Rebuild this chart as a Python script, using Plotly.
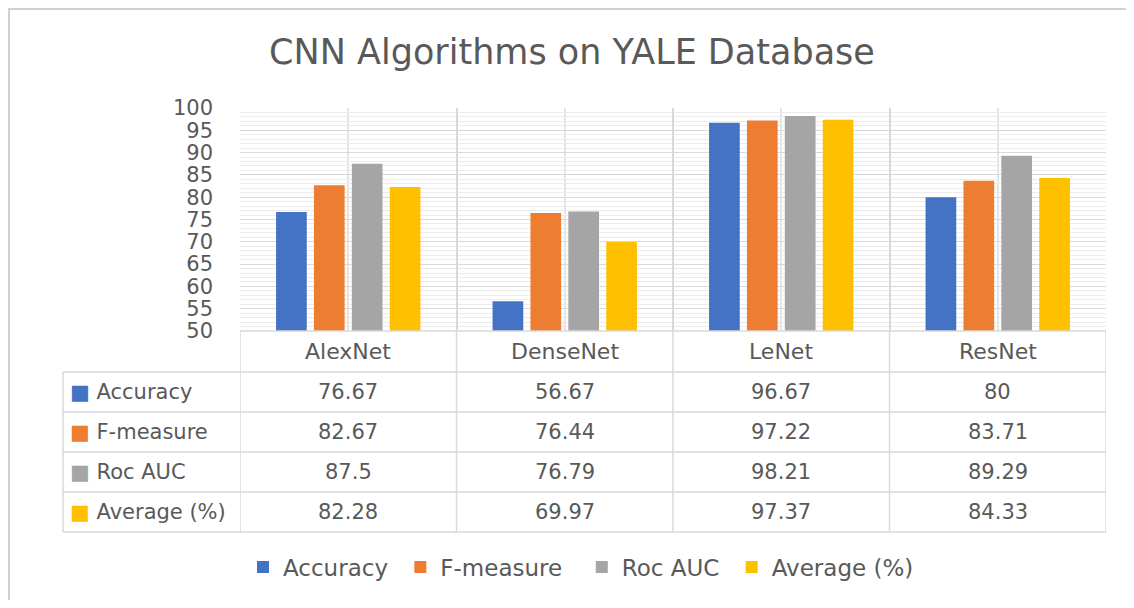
import plotly.graph_objects as go

# data
models = ["AlexNet", "DenseNet", "LeNet", "ResNet"]
metrics = ["Accuracy", "F-measure", "Roc AUC", "Average (%)"]
accuracy = [76.67, 56.67, 96.67, 80]
f_measure = [82.67, 76.44, 97.22, 83.71]
roc_auc = [87.5, 76.79, 98.21, 89.29]
average = [82.28, 69.97, 97.37, 84.33]
colors = ["#4472C4", "#ED7D31", "#A5A5A5", "#FFC000"]

series = [accuracy, f_measure, roc_auc, average]

# page body has an 8px margin; work in screen pixels and shift
OFF = 8
W, H = 1134 - 2 * OFF, 608 - 2 * OFF
L, R, T, B = 240, 1106, 108, 331  # plot area, screen pixels


def px(x):
    return (x - L) / (R - L)


def py(y):
    return (B - y) / (B - T)


FONT = "DejaVu Sans"
GREY = "#595959"
LINE = "#d9d9d9"

# a little extra space after legend labels (Excel spaces them wider)
pad = [1, 2, 1, 0]

fig = go.Figure()
xs = list(range(len(models)))
for name, vals, c, p in zip(metrics, series, colors, pad):
    fig.add_trace(go.Bar(x=xs, y=vals, name=name + "\u00a0" * p, marker_color=c,
                         marker_line_width=0))

shapes = []
annotations = []

# table rows (category row + 4 metric rows)
rows = [331, 372, 412, 452, 492, 532]
for i, yy in enumerate(rows):
    x0 = L if i == 0 else 63
    shapes.append(dict(type="line", xref="paper", yref="paper",
                       x0=px(x0), x1=1, y0=py(yy), y1=py(yy),
                       line=dict(color=LINE, width=1.5)))
# column borders
for k in range(len(models) + 1):
    shapes.append(dict(type="line", xref="x", yref="paper",
                       x0=k - 0.5, x1=k - 0.5, y0=py(rows[0]), y1=py(rows[-1]),
                       line=dict(color=LINE, width=1.5)))
shapes.append(dict(type="line", xref="paper", yref="paper",
                   x0=px(63), x1=px(63), y0=py(rows[1]), y1=py(rows[-1]),
                   line=dict(color=LINE, width=1.5)))
# outer chart frame
shapes.append(dict(type="rect", xref="paper", yref="paper",
                   x0=px(OFF + 1), x1=px(1200), y0=py(700), y1=py(OFF + 1),
                   line=dict(color="#d0d0d0", width=2)))

# category labels
for k, m in enumerate(models):
    annotations.append(dict(x=k, y=py((rows[0] + rows[1]) / 2), xref="x", yref="paper",
                            yanchor="middle", text=m, showarrow=False,
                            font=dict(family=FONT, size=22, color=GREY)))
# table body
for r, (name, vals, c) in enumerate(zip(metrics, series, colors)):
    yc = py((rows[r + 1] + rows[r + 2]) / 2)
    annotations.append(dict(x=px(68), y=yc, xref="paper", yref="paper",
                            xanchor="left", yanchor="middle", showarrow=False,
                            text=f"<span style='color:{c}'>■</span> {name}",
                            font=dict(family=FONT, size=21, color=GREY)))
    for k, v in enumerate(vals):
        annotations.append(dict(x=k, y=yc, xref="x", yref="paper",
                                yanchor="middle", text=f"{v:g}", showarrow=False,
                                font=dict(family=FONT, size=21, color=GREY)))

fig.update_layout(
    width=W, height=H,
    margin=dict(l=L - OFF, r=W - (R - OFF), t=T - OFF, b=H - (B - OFF)),
    paper_bgcolor="white", plot_bgcolor="white",
    title=dict(text="CNN Algorithms on YALE Database", xref="container",
               x=(572 - OFF) / W, xanchor="center",
               y=1 - (52 - OFF) / H, yanchor="middle",
               font=dict(family=FONT, size=35, color=GREY)),
    barmode="group", bargap=0.3, bargroupgap=0.19,
    showlegend=True,
    legend=dict(orientation="h", x=px(243), xanchor="left",
                y=py(567), yanchor="middle",
                font=dict(family=FONT, size=23, color=GREY),
                traceorder="normal"),
    shapes=shapes, annotations=annotations,
)
fig.update_xaxes(range=[-0.5, len(models) - 0.5], showticklabels=False,
                 tickmode="linear", tick0=-0.5, dtick=1,
                 showgrid=True, gridcolor=LINE, gridwidth=1.5,
                 minor=dict(showgrid=True, tick0=0, dtick=1, gridcolor="#e4e4e4"),
                 zeroline=False, fixedrange=True)
fig.update_yaxes(range=[50, 100], tickmode="linear", tick0=50, dtick=5,
                 showgrid=True, gridcolor=LINE, gridwidth=1.2,
                 minor=dict(showgrid=True, dtick=1, gridcolor="#ececec"),
                 ticklabelstandoff=26, zeroline=False,
                 tickfont=dict(family=FONT, size=21, color=GREY))

fig.write_html("out.html")
